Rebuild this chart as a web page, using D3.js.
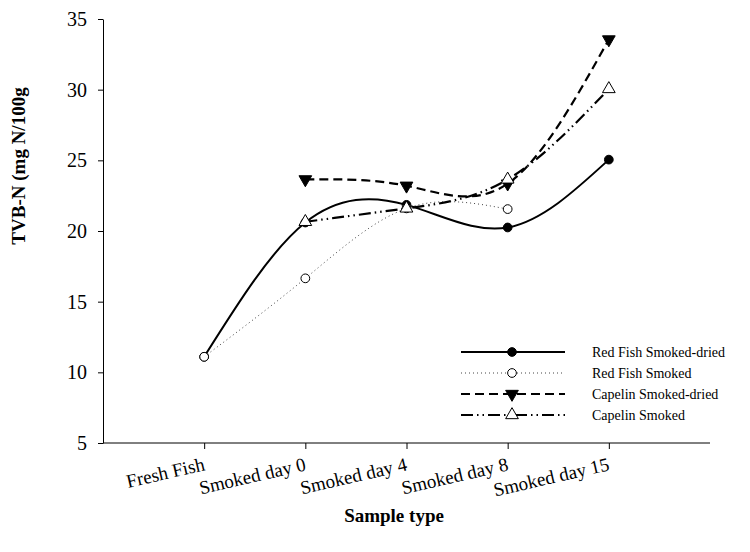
<!DOCTYPE html>
<html><head><meta charset="utf-8">
<script src="https://cdn.jsdelivr.net/npm/d3@7"></script>
<style>body{margin:0;background:#fff}svg{font-family:"Liberation Serif","Times New Roman",serif}</style>
</head><body><svg id="c" width="750" height="552"></svg>
<script>
const categories = ["Fresh Fish","Smoked day 0","Smoked day 4","Smoked day 8","Smoked day 15"];
const redFishSmokedDried = [11.1, 20.6, 21.85, 20.25, 25.05];
const redFishSmoked = [11.1, 16.65, 21.6, 21.55, null];
const capelinSmokedDried = [null, 23.65, 23.2, 23.35, 33.55];
const capelinSmoked = [null, 20.65, 21.6, 23.65, 30.05];
const yTicks = [5,10,15,20,25,30,35];
const seriesNames = ["Red Fish Smoked-dried","Red Fish Smoked","Capelin Smoked-dried","Capelin Smoked"];

const svg = d3.select("#c");
const x = d3.scaleLinear().domain([0,6]).range([103,710]);
const y = d3.scaleLinear().domain([5,35]).range([443,19]);

const styles = [
  {w:2, dash:null, color:"#000", sym:d3.symbolCircle, size:60, fill:"#000"},
  {w:1, dash:"1,3", color:"#444", sym:d3.symbolCircle, size:60, fill:"#fff"},
  {w:2.2, dash:"9,5", color:"#000", sym:d3.symbolTriangle, size:70, fill:"#000", rot:180},
  {w:2.2, dash:"12,4,1.5,4,1.5,4", color:"#000", sym:d3.symbolTriangle, size:70, fill:"#fff", rot:0}
];
const allSeries = [redFishSmokedDried, redFishSmoked, capelinSmokedDried, capelinSmoked];

// axes
const yAxis = d3.axisLeft(y).tickValues(yTicks).tickSize(5).tickPadding(11).tickSizeOuter(0);
const gy = svg.append("g").attr("transform","translate(103,0)").call(yAxis);
gy.selectAll("text").attr("font-size",20).attr("font-family","Liberation Serif");
const xAxis = d3.axisBottom(x).tickValues([1,2,3,4,5]).tickFormat(d=>categories[d-1]).tickSize(6).tickSizeOuter(0);
const gx = svg.append("g").attr("transform","translate(0,443)").call(xAxis);
gx.select(".domain").attr("d","M103,0H710");
gx.selectAll("text").attr("font-size",19).attr("font-family","Liberation Serif")
  .attr("text-anchor","end").attr("dy",null).attr("y",null)
  .attr("transform","translate(1,27) rotate(-13)");
svg.selectAll(".domain, .tick line").attr("stroke","#000").attr("stroke-width",1);

// titles
svg.append("text").attr("x",394).attr("y",522).attr("text-anchor","middle")
  .attr("font-weight","bold").attr("font-size",19).text("Sample type");
svg.append("text").attr("transform","translate(25,166) rotate(-90)").attr("text-anchor","middle")
  .attr("font-weight","bold").attr("font-size",19).text("TVB-N (mg N/100g");

// lines
allSeries.forEach((vals,i)=>{
  const pts = vals.map((v,j)=>v==null?null:[j+1,v]).filter(p=>p);
  const st = styles[i];
  const line = d3.line().x(d=>x(d[0])).y(d=>y(d[1])).curve(d3.curveNatural);
  svg.append("path").attr("d",line(pts)).attr("fill","none").attr("stroke",st.color)
    .attr("stroke-width",st.w).attr("stroke-dasharray",st.dash);
});
// markers
allSeries.forEach((vals,i)=>{
  const st = styles[i];
  const sym = d3.symbol().type(st.sym).size(st.size);
  vals.forEach((v,j)=>{
    if(v==null) return;
    svg.append("path").attr("d",sym()).attr("fill",st.fill).attr("stroke","#000").attr("stroke-width",1)
      .attr("transform",`translate(${x(j+1)},${y(v)}) rotate(${st.rot||0})`);
  });
});

// legend
seriesNames.forEach((n,i)=>{
  const st = styles[i];
  const ly = 352 + i*21;
  svg.append("line").attr("x1",461).attr("x2",565).attr("y1",ly).attr("y2",ly)
    .attr("stroke",st.color).attr("stroke-width",st.w).attr("stroke-dasharray",st.dash);
  svg.append("path").attr("d",d3.symbol().type(st.sym).size(st.size)()).attr("fill",st.fill)
    .attr("stroke","#000").attr("stroke-width",1).attr("transform",`translate(512,${ly}) rotate(${st.rot||0})`);
  svg.append("text").attr("x",592).attr("y",ly+5).attr("font-size",14).text(n);
});
</script></body></html>
